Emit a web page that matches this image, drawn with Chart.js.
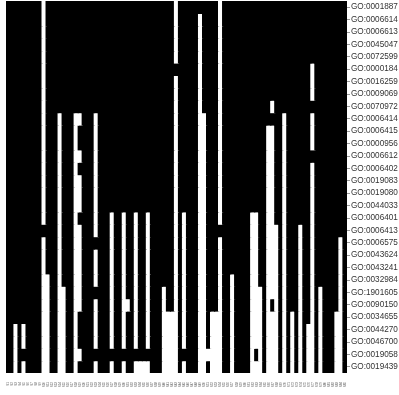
<!DOCTYPE html>
<html><head><meta charset="utf-8">
<script src="https://cdn.jsdelivr.net/npm/chart.js@4.4.1/dist/chart.umd.min.js"></script>
<style>html,body{margin:0;padding:0;background:#fff}</style>
</head><body>
<canvas id="c" width="399" height="395"></canvas>
<script>
const rowLabels = ['GO:0001887','GO:0006614','GO:0006613','GO:0045047','GO:0072599','GO:0000184','GO:0016259','GO:0009069','GO:0070972','GO:0006414','GO:0006415','GO:0000956','GO:0006612','GO:0006402','GO:0019083','GO:0019080','GO:0044033','GO:0006401','GO:0006413','GO:0006575','GO:0043624','GO:0043241','GO:0032984','GO:1901605','GO:0090150','GO:0034655','GO:0044270','GO:0046700','GO:0019058','GO:0019439'];

const colLabels = ['S1','S2','S3','S4','S5','S6','S7','S8','S9','S10','S11','S12','S13','S14','S15','S16','S17','S18','S19','S20','S21','S22','S23','S24','S25','S26','S27','S28','S29','S30','S31','S32','S33','S34','S35','S36','S37','S38','S39','S40','S41','S42','S43','S44','S45','S46','S47','S48','S49','S50','S51','S52','S53','S54','S55','S56','S57','S58','S59','S60','S61','S62','S63','S64','S65','S66','S67','S68','S69','S70','S71','S72','S73','S74','S75','S76','S77','S78','S79','S80','S81','S82','S83','S84','S85'];

// one string per column, rows top -> bottom; '1' = black cell, '0' = white cell
const colPatterns = [
'111111111111111111111111111111',
'111111111111111111111111111111',
'111111111111111111111111110000',
'111111111111111111111111111111',
'111111111111111111111111110010',
'111111111111111111111111111111',
'111111111111111111111111111111',
'111111111111111111111111111111',
'111111111111111111111111111111',
'000000000000000000100000000000',
'111111111111111111111100000000',
'111111111111111111111111111111',
'111111111111111111111111111111',
'111111111000000000000000000000',
'111111111111111111111110000000',
'111111111111111111111111111111',
'111111111111111111111111111111',
'111111111000000000000000000000',
'111111111011010001000000011101',
'111111111111111111111111111111',
'111111111111111111111111111111',
'111111111111111111111111111111',
'111111111000000000010001000010',
'111111111111111111111111111111',
'111111111111111111111111111111',
'111111111111111111111111111111',
'111111111111111110000000000010',
'111111111111111111111111111111',
'111111111111111111111111111111',
'111111111111111110000000000010',
'111111111111111111111111011111',
'111111111111111111111111111111',
'111111111111111110000000000010',
'111111111111111111111111111110',
'111111111111111111111111111110',
'111111111111111110000000000010',
'111111111111111111111111111111',
'111111111111111111111111111111',
'111111111111111111111111111111',
'111111111111111111111110000000',
'111111111111111111111111100000',
'111111111111111111111111100000',
'000001000000000000000000000000',
'111111111111111111111111111111',
'111111111111111110000000000010',
'111111111111111111111111111111',
'111111111111111111111111111111',
'111111111111111111111111111111',
'100000000000000000000000000000',
'111111111000000000000000000000',
'111111111111111111111111111101',
'111111111111111111111111100000',
'111111111111111111111111100000',
'000000000000000000100000000000',
'111111111111111111111111111111',
'111111111111111111111111111111',
'111111111111111111111100000000',
'111111111111111111111111111111',
'111111111111111111111111111111',
'111111111111111111111111111111',
'111111111111111111111111111111',
'111111111111111110000000000000',
'111111111111111110000000000010',
'111111111111111111111110000000',
'111111111111111111111111111111',
'111111111100000000000000000000',
'111111110100000000000000100000',
'111111111111111111000000000000',
'111111111111111111111111111111',
'111111111000000000000000000000',
'111111111111111111111111111111',
'111111111111111111111111100000',
'111111111111111111111111111111',
'111111111111111111000000000000',
'111111111111111111111111111111',
'111111111111111111111111110000',
'111110001000100000000000000000',
'111111111111111111111111111111',
'111111111111111111111110000000',
'111111111111111111111111111111',
'111111111111111111111111111111',
'111111111111111111111111111111',
'111111111111111111111111100000',
'111111111111111111100000000000',
'111111111111111111111111111111'
];

const datasets = rowLabels.map((lab, r) => ({
  label: lab,
  data: colLabels.map(() => [r, r + 1]),
  backgroundColor: colPatterns.map(p => p[r] === '1' ? '#000000' : '#ffffff'),
  borderWidth: 0,
  inflateAmount: 0.6,
  grouped: false,
  barPercentage: 1,
  categoryPercentage: 1
}));

new Chart(document.getElementById('c'), {
  type: 'bar',
  data: { labels: colLabels, datasets },
  options: {
    responsive: false,
    animation: false,
    layout: { padding: { left: 6, top: 1, right: 0, bottom: 0 } },
    plugins: { legend: { display: false }, tooltip: { enabled: false } },
    scales: {
      x: {
        grid: { display: false },
        border: { display: false },
        ticks: { autoSkip: false, maxRotation: 90, minRotation: 90, padding: 1,
                 font: { size: 3, family: 'Liberation Sans' }, color: '#555' },
        afterFit: s => { s.height = 22; s.paddingLeft = 0; s.paddingRight = 0; }
      },
      y: {
        position: 'right',
        reverse: true,
        min: 0, max: 30,
        afterBuildTicks: s => { s.ticks = rowLabels.map((_, i) => ({ value: i + 0.5 })); },
        grid: { drawOnChartArea: false, tickLength: 3, color: '#999' },
        border: { display: false },
        ticks: { autoSkip: false, padding: 1, color: '#333', font: { size: 8.2, family: 'Liberation Sans' },
                 callback: (v, i) => rowLabels[i] },
        afterFit: s => { s.width = 52; s.paddingTop = 0; s.paddingBottom = 0; }
      }
    }
  }
});
</script>
</body></html>
